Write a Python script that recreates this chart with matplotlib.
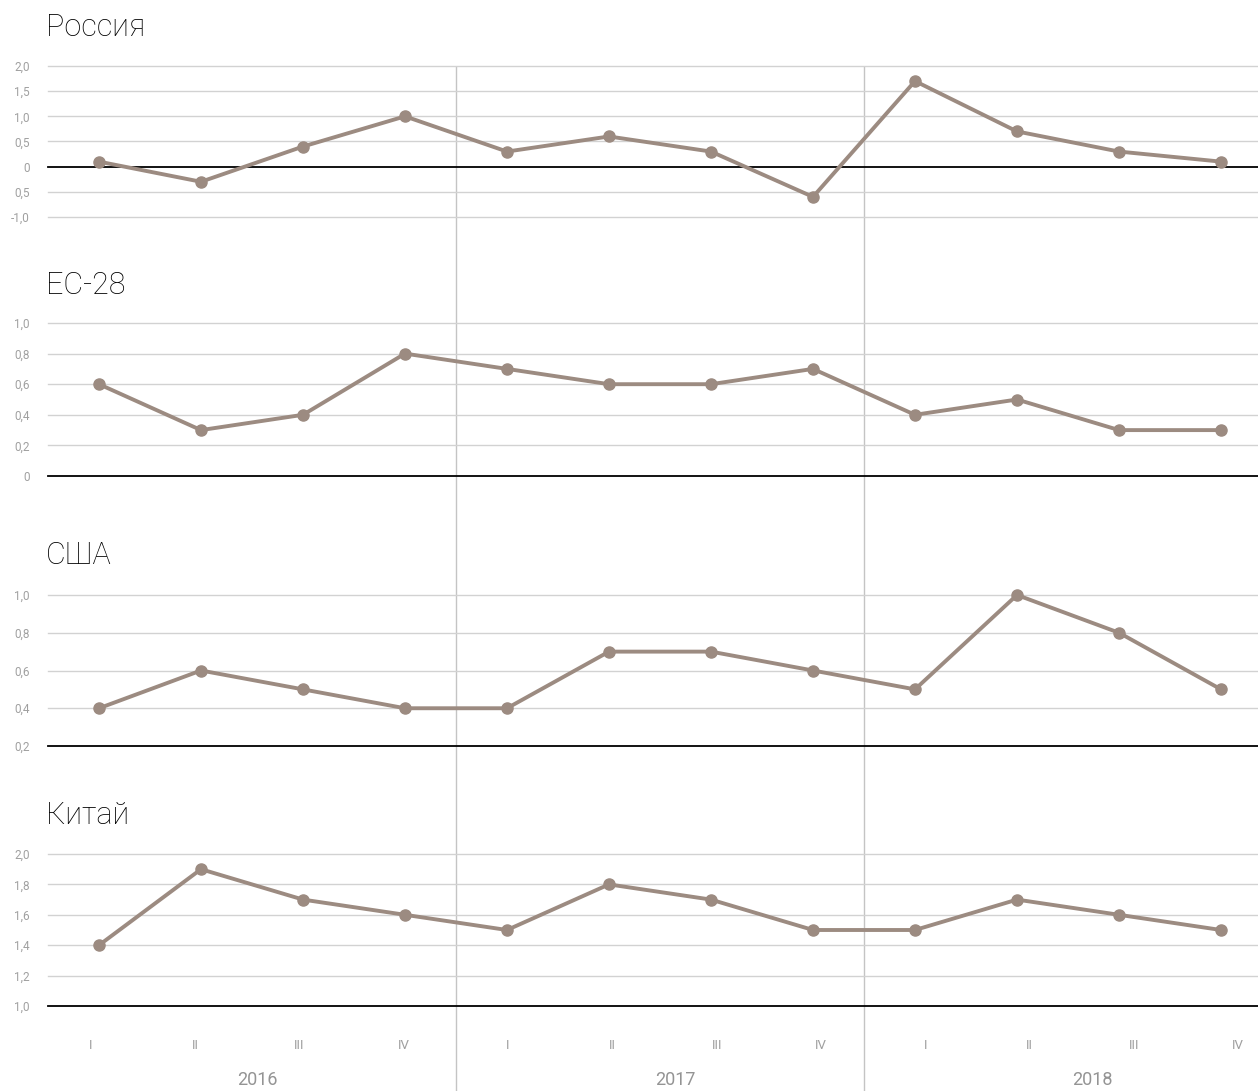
import matplotlib.pyplot as plt

# DATA
quarters = ["I", "II", "III", "IV"] * 3
years = ["2016", "2017", "2018"]

russia = [0.1, -0.3, 0.4, 1.0, 0.3, 0.6, 0.3, -0.6, 1.7, 0.7, 0.3, 0.1]
eu28 = [0.6, 0.3, 0.4, 0.8, 0.7, 0.6, 0.6, 0.7, 0.4, 0.5, 0.3, 0.3]
usa = [0.4, 0.6, 0.5, 0.4, 0.4, 0.7, 0.7, 0.6, 0.5, 1.0, 0.8, 0.5]
china = [1.4, 1.9, 1.7, 1.6, 1.5, 1.8, 1.7, 1.5, 1.5, 1.7, 1.6, 1.5]

russia_ticks = [-1.0, -0.5, 0, 0.5, 1.0, 1.5, 2.0]
russia_labels = ["-1,0", "0,5", "0", "0,5", "1,0", "1,5", "2,0"]
eu_ticks = [0, 0.2, 0.4, 0.6, 0.8, 1.0]
eu_labels = ["0", "0,2", "0,4", "0,6", "0,8", "1,0"]
usa_ticks = [0.2, 0.4, 0.6, 0.8, 1.0]
usa_labels = ["0,2", "0,4", "0,6", "0,8", "1,0"]
china_ticks = [1.0, 1.2, 1.4, 1.6, 1.8, 2.0]
china_labels = ["1,0", "1,2", "1,4", "1,6", "1,8", "2,0"]

W, H = 1258, 1091
LINE = "#9c8b81"
GRID = "#d2d2d2"
TICK = "#a0a0a0"
fam = ["Roboto", "DejaVu Sans"]

plt.rcParams['font.family'] = fam

fig = plt.figure(figsize=(W / 100, H / 100), dpi=100)


def box(left, top, right, bottom):
    return [left / W, 1 - bottom / H, (right - left) / W, (bottom - top) / H]


# x band: 48 px .. 1272 px, 102 px per quarter
ax_left, ax_right = 48, 1272
n = len(quarters)
x = list(range(n))

panels = [
    ("Россия", russia, russia_ticks, russia_labels, 0, 66, 217, 27),
    ("ЕС-28", eu28, eu_ticks, eu_labels, 0, 323, 476, 285),
    ("США", usa, usa_ticks, usa_labels, 0.2, 595, 746, 555),
    ("Китай", china, china_ticks, china_labels, 1.0, 854, 1006, 815),
]

# vertical year separators behind everything
sep = fig.add_axes(box(ax_left, 66, ax_right, H), zorder=0)
sep.set_xlim(-0.5, n - 0.5)
sep.set_ylim(0, 1)
sep.axis("off")
for k in range(1, len(years)):
    sep.axvline(k * 4 - 0.5, color="#c4c4c4", lw=1.0)

for name, vals, ticks, labels, base, top, bottom, ty in panels:
    ax = fig.add_axes(box(ax_left, top, ax_right, bottom), zorder=1)
    ax.patch.set_alpha(0)
    ax.set_xlim(-0.5, n - 0.5)
    ax.set_ylim(min(ticks), max(ticks))
    for t in ticks:
        if t == base:
            ax.axhline(t, color="black", lw=1.3, zorder=2, clip_on=False)
        else:
            ax.axhline(t, color=GRID, lw=1.0, zorder=1, clip_on=False)
    ax.plot(x, vals, color=LINE, lw=2.8, marker="o", markersize=8,
            zorder=3, clip_on=False)
    ax.set_yticks(ticks)
    ax.set_yticklabels(labels, family=fam, fontsize=8.5, color=TICK)
    ax.tick_params(axis="y", length=0, pad=13)
    ax.set_xticks([])
    for s in ax.spines.values():
        s.set_visible(False)
    fig.text(46 / W, 1 - ty / H, name, fontsize=22, va="center", ha="left",
             color="#000000", fontweight="light")

# quarter and year labels
lab = fig.add_axes(box(ax_left, 1020, W, H), zorder=1)
lab.patch.set_alpha(0)
lab.axis("off")
step = 104.3
lab.set_xlim(-(91 - ax_left) / step, n - 1 + (W - 1238) / step)
lab.set_ylim(0, 1)
for i, q in enumerate(quarters):
    lab.text(i, 0.64, q, ha="center", va="center", fontsize=9.5,
             color=TICK, family=fam)
for k, y in enumerate(years):
    lab.text(k * 4 + 1.6, 0.15, y, ha="center", va="center", fontsize=13,
             color="#949494", family=fam)

fig.savefig("out.png", dpi=100)
